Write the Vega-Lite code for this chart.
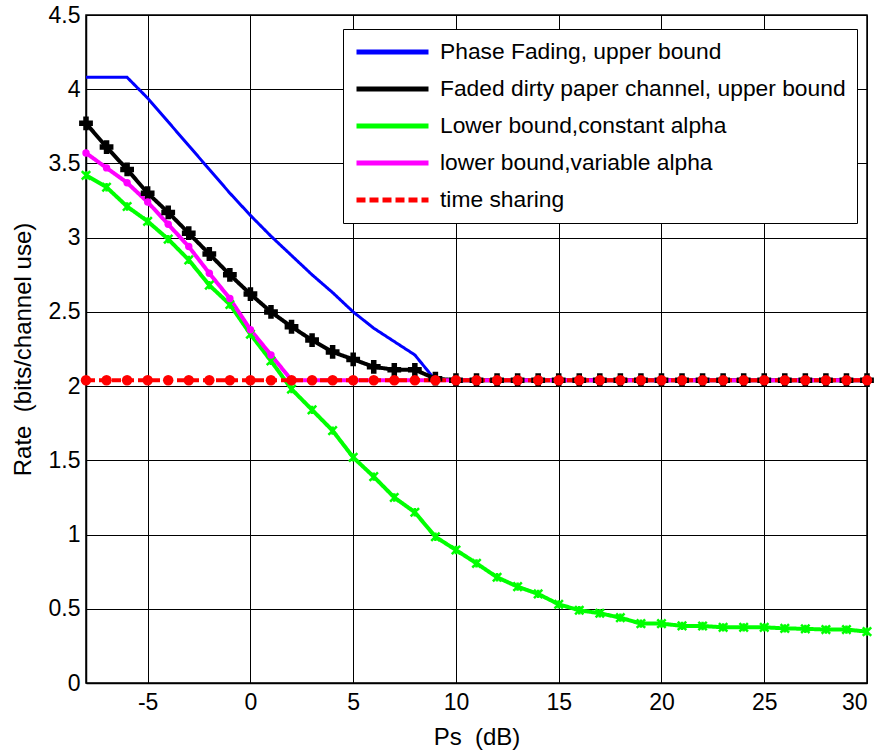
{
  "$schema": "https://vega.github.io/schema/vega-lite/v6.json",
  "autosize": "none",
  "width": 781,
  "height": 668,
  "padding": {"left": 86, "top": 15, "right": 14, "bottom": 72},
  "background": "white",
  "config": {
    "view": {"stroke": "black", "strokeWidth": 1.5},
    "font": "Liberation Sans",
    "axis": {
      "grid": true,
      "gridColor": "black",
      "gridOpacity": 1,
      "gridWidth": 1,
      "domainColor": "black",
      "domainWidth": 1.5,
      "ticks": false,
      "labelFont": "Liberation Sans",
      "labelFontSize": 23,
      "labelColor": "#000000",
      "titleFont": "Liberation Sans",
      "titleFontSize": 24,
      "titleFontWeight": "normal",
      "titleColor": "#000000"
    }
  },
  "data": {
    "values": [
      {"s": "Phase Fading, upper bound", "x": -8, "y": 4.08},
      {"s": "Phase Fading, upper bound", "x": -7, "y": 4.08},
      {"s": "Phase Fading, upper bound", "x": -6, "y": 4.08},
      {"s": "Phase Fading, upper bound", "x": -5, "y": 3.94},
      {"s": "Phase Fading, upper bound", "x": -4, "y": 3.78},
      {"s": "Phase Fading, upper bound", "x": -3, "y": 3.62},
      {"s": "Phase Fading, upper bound", "x": -2, "y": 3.46},
      {"s": "Phase Fading, upper bound", "x": -1, "y": 3.30},
      {"s": "Phase Fading, upper bound", "x": 0, "y": 3.15},
      {"s": "Phase Fading, upper bound", "x": 1, "y": 3.01},
      {"s": "Phase Fading, upper bound", "x": 2, "y": 2.88},
      {"s": "Phase Fading, upper bound", "x": 3, "y": 2.75},
      {"s": "Phase Fading, upper bound", "x": 4, "y": 2.63},
      {"s": "Phase Fading, upper bound", "x": 5, "y": 2.50},
      {"s": "Phase Fading, upper bound", "x": 6, "y": 2.39},
      {"s": "Phase Fading, upper bound", "x": 7, "y": 2.30},
      {"s": "Phase Fading, upper bound", "x": 8, "y": 2.21},
      {"s": "Phase Fading, upper bound", "x": 9, "y": 2.04},
      {"s": "Phase Fading, upper bound", "x": 30, "y": 2.04},

      {"s": "Faded dirty paper channel, upper bound", "x": -8, "y": 3.77},
      {"s": "Faded dirty paper channel, upper bound", "x": -7, "y": 3.61},
      {"s": "Faded dirty paper channel, upper bound", "x": -6, "y": 3.46},
      {"s": "Faded dirty paper channel, upper bound", "x": -5, "y": 3.30},
      {"s": "Faded dirty paper channel, upper bound", "x": -4, "y": 3.17},
      {"s": "Faded dirty paper channel, upper bound", "x": -3, "y": 3.03},
      {"s": "Faded dirty paper channel, upper bound", "x": -2, "y": 2.89},
      {"s": "Faded dirty paper channel, upper bound", "x": -1, "y": 2.75},
      {"s": "Faded dirty paper channel, upper bound", "x": 0, "y": 2.62},
      {"s": "Faded dirty paper channel, upper bound", "x": 1, "y": 2.50},
      {"s": "Faded dirty paper channel, upper bound", "x": 2, "y": 2.40},
      {"s": "Faded dirty paper channel, upper bound", "x": 3, "y": 2.31},
      {"s": "Faded dirty paper channel, upper bound", "x": 4, "y": 2.23},
      {"s": "Faded dirty paper channel, upper bound", "x": 5, "y": 2.18},
      {"s": "Faded dirty paper channel, upper bound", "x": 6, "y": 2.13},
      {"s": "Faded dirty paper channel, upper bound", "x": 7, "y": 2.11},
      {"s": "Faded dirty paper channel, upper bound", "x": 8, "y": 2.11},
      {"s": "Faded dirty paper channel, upper bound", "x": 9, "y": 2.05},
      {"s": "Faded dirty paper channel, upper bound", "x": 10, "y": 2.04},
      {"s": "Faded dirty paper channel, upper bound", "x": 11, "y": 2.04},
      {"s": "Faded dirty paper channel, upper bound", "x": 12, "y": 2.04},
      {"s": "Faded dirty paper channel, upper bound", "x": 13, "y": 2.04},
      {"s": "Faded dirty paper channel, upper bound", "x": 14, "y": 2.04},
      {"s": "Faded dirty paper channel, upper bound", "x": 15, "y": 2.04},
      {"s": "Faded dirty paper channel, upper bound", "x": 16, "y": 2.04},
      {"s": "Faded dirty paper channel, upper bound", "x": 17, "y": 2.04},
      {"s": "Faded dirty paper channel, upper bound", "x": 18, "y": 2.04},
      {"s": "Faded dirty paper channel, upper bound", "x": 19, "y": 2.04},
      {"s": "Faded dirty paper channel, upper bound", "x": 20, "y": 2.04},
      {"s": "Faded dirty paper channel, upper bound", "x": 21, "y": 2.04},
      {"s": "Faded dirty paper channel, upper bound", "x": 22, "y": 2.04},
      {"s": "Faded dirty paper channel, upper bound", "x": 23, "y": 2.04},
      {"s": "Faded dirty paper channel, upper bound", "x": 24, "y": 2.04},
      {"s": "Faded dirty paper channel, upper bound", "x": 25, "y": 2.04},
      {"s": "Faded dirty paper channel, upper bound", "x": 26, "y": 2.04},
      {"s": "Faded dirty paper channel, upper bound", "x": 27, "y": 2.04},
      {"s": "Faded dirty paper channel, upper bound", "x": 28, "y": 2.04},
      {"s": "Faded dirty paper channel, upper bound", "x": 29, "y": 2.04},
      {"s": "Faded dirty paper channel, upper bound", "x": 30, "y": 2.04},

      {"s": "Lower bound,constant alpha", "x": -8, "y": 3.42},
      {"s": "Lower bound,constant alpha", "x": -7, "y": 3.34},
      {"s": "Lower bound,constant alpha", "x": -6, "y": 3.21},
      {"s": "Lower bound,constant alpha", "x": -5, "y": 3.11},
      {"s": "Lower bound,constant alpha", "x": -4, "y": 2.99},
      {"s": "Lower bound,constant alpha", "x": -3, "y": 2.85},
      {"s": "Lower bound,constant alpha", "x": -2, "y": 2.68},
      {"s": "Lower bound,constant alpha", "x": -1, "y": 2.55},
      {"s": "Lower bound,constant alpha", "x": 0, "y": 2.35},
      {"s": "Lower bound,constant alpha", "x": 1, "y": 2.17},
      {"s": "Lower bound,constant alpha", "x": 2, "y": 1.98},
      {"s": "Lower bound,constant alpha", "x": 3, "y": 1.84},
      {"s": "Lower bound,constant alpha", "x": 4, "y": 1.70},
      {"s": "Lower bound,constant alpha", "x": 5, "y": 1.52},
      {"s": "Lower bound,constant alpha", "x": 6, "y": 1.39},
      {"s": "Lower bound,constant alpha", "x": 7, "y": 1.25},
      {"s": "Lower bound,constant alpha", "x": 8, "y": 1.15},
      {"s": "Lower bound,constant alpha", "x": 9, "y": 0.985},
      {"s": "Lower bound,constant alpha", "x": 10, "y": 0.896},
      {"s": "Lower bound,constant alpha", "x": 11, "y": 0.806},
      {"s": "Lower bound,constant alpha", "x": 12, "y": 0.712},
      {"s": "Lower bound,constant alpha", "x": 13, "y": 0.649},
      {"s": "Lower bound,constant alpha", "x": 14, "y": 0.60},
      {"s": "Lower bound,constant alpha", "x": 15, "y": 0.53},
      {"s": "Lower bound,constant alpha", "x": 16, "y": 0.49},
      {"s": "Lower bound,constant alpha", "x": 17, "y": 0.47},
      {"s": "Lower bound,constant alpha", "x": 18, "y": 0.44},
      {"s": "Lower bound,constant alpha", "x": 19, "y": 0.40},
      {"s": "Lower bound,constant alpha", "x": 20, "y": 0.40},
      {"s": "Lower bound,constant alpha", "x": 21, "y": 0.385},
      {"s": "Lower bound,constant alpha", "x": 22, "y": 0.384},
      {"s": "Lower bound,constant alpha", "x": 23, "y": 0.375},
      {"s": "Lower bound,constant alpha", "x": 24, "y": 0.375},
      {"s": "Lower bound,constant alpha", "x": 25, "y": 0.375},
      {"s": "Lower bound,constant alpha", "x": 26, "y": 0.368},
      {"s": "Lower bound,constant alpha", "x": 27, "y": 0.365},
      {"s": "Lower bound,constant alpha", "x": 28, "y": 0.36},
      {"s": "Lower bound,constant alpha", "x": 29, "y": 0.36},
      {"s": "Lower bound,constant alpha", "x": 30, "y": 0.346},

      {"s": "lower bound,variable alpha", "x": -8, "y": 3.57},
      {"s": "lower bound,variable alpha", "x": -7, "y": 3.47},
      {"s": "lower bound,variable alpha", "x": -6, "y": 3.37},
      {"s": "lower bound,variable alpha", "x": -5, "y": 3.24},
      {"s": "lower bound,variable alpha", "x": -4, "y": 3.09},
      {"s": "lower bound,variable alpha", "x": -3, "y": 2.94},
      {"s": "lower bound,variable alpha", "x": -2, "y": 2.76},
      {"s": "lower bound,variable alpha", "x": -1, "y": 2.59},
      {"s": "lower bound,variable alpha", "x": 0, "y": 2.38},
      {"s": "lower bound,variable alpha", "x": 1, "y": 2.21},
      {"s": "lower bound,variable alpha", "x": 2, "y": 2.04},
      {"s": "lower bound,variable alpha", "x": 3, "y": 2.04},
      {"s": "lower bound,variable alpha", "x": 4, "y": 2.04},
      {"s": "lower bound,variable alpha", "x": 5, "y": 2.04},
      {"s": "lower bound,variable alpha", "x": 6, "y": 2.04},
      {"s": "lower bound,variable alpha", "x": 7, "y": 2.04},
      {"s": "lower bound,variable alpha", "x": 8, "y": 2.04},
      {"s": "lower bound,variable alpha", "x": 9, "y": 2.04},
      {"s": "lower bound,variable alpha", "x": 10, "y": 2.04},
      {"s": "lower bound,variable alpha", "x": 11, "y": 2.04},
      {"s": "lower bound,variable alpha", "x": 12, "y": 2.04},
      {"s": "lower bound,variable alpha", "x": 13, "y": 2.04},
      {"s": "lower bound,variable alpha", "x": 14, "y": 2.04},
      {"s": "lower bound,variable alpha", "x": 15, "y": 2.04},
      {"s": "lower bound,variable alpha", "x": 16, "y": 2.04},
      {"s": "lower bound,variable alpha", "x": 17, "y": 2.04},
      {"s": "lower bound,variable alpha", "x": 18, "y": 2.04},
      {"s": "lower bound,variable alpha", "x": 19, "y": 2.04},
      {"s": "lower bound,variable alpha", "x": 20, "y": 2.04},
      {"s": "lower bound,variable alpha", "x": 21, "y": 2.04},
      {"s": "lower bound,variable alpha", "x": 22, "y": 2.04},
      {"s": "lower bound,variable alpha", "x": 23, "y": 2.04},
      {"s": "lower bound,variable alpha", "x": 24, "y": 2.04},
      {"s": "lower bound,variable alpha", "x": 25, "y": 2.04},
      {"s": "lower bound,variable alpha", "x": 26, "y": 2.04},
      {"s": "lower bound,variable alpha", "x": 27, "y": 2.04},
      {"s": "lower bound,variable alpha", "x": 28, "y": 2.04},
      {"s": "lower bound,variable alpha", "x": 29, "y": 2.04},
      {"s": "lower bound,variable alpha", "x": 30, "y": 2.04},

      {"s": "time sharing", "x": -8, "y": 2.04},
      {"s": "time sharing", "x": -7, "y": 2.04},
      {"s": "time sharing", "x": -6, "y": 2.04},
      {"s": "time sharing", "x": -5, "y": 2.04},
      {"s": "time sharing", "x": -4, "y": 2.04},
      {"s": "time sharing", "x": -3, "y": 2.04},
      {"s": "time sharing", "x": -2, "y": 2.04},
      {"s": "time sharing", "x": -1, "y": 2.04},
      {"s": "time sharing", "x": 0, "y": 2.04},
      {"s": "time sharing", "x": 1, "y": 2.04},
      {"s": "time sharing", "x": 2, "y": 2.04},
      {"s": "time sharing", "x": 3, "y": 2.04},
      {"s": "time sharing", "x": 4, "y": 2.04},
      {"s": "time sharing", "x": 5, "y": 2.04},
      {"s": "time sharing", "x": 6, "y": 2.04},
      {"s": "time sharing", "x": 7, "y": 2.04},
      {"s": "time sharing", "x": 8, "y": 2.04},
      {"s": "time sharing", "x": 9, "y": 2.04},
      {"s": "time sharing", "x": 10, "y": 2.04},
      {"s": "time sharing", "x": 11, "y": 2.04},
      {"s": "time sharing", "x": 12, "y": 2.04},
      {"s": "time sharing", "x": 13, "y": 2.04},
      {"s": "time sharing", "x": 14, "y": 2.04},
      {"s": "time sharing", "x": 15, "y": 2.04},
      {"s": "time sharing", "x": 16, "y": 2.04},
      {"s": "time sharing", "x": 17, "y": 2.04},
      {"s": "time sharing", "x": 18, "y": 2.04},
      {"s": "time sharing", "x": 19, "y": 2.04},
      {"s": "time sharing", "x": 20, "y": 2.04},
      {"s": "time sharing", "x": 21, "y": 2.04},
      {"s": "time sharing", "x": 22, "y": 2.04},
      {"s": "time sharing", "x": 23, "y": 2.04},
      {"s": "time sharing", "x": 24, "y": 2.04},
      {"s": "time sharing", "x": 25, "y": 2.04},
      {"s": "time sharing", "x": 26, "y": 2.04},
      {"s": "time sharing", "x": 27, "y": 2.04},
      {"s": "time sharing", "x": 28, "y": 2.04},
      {"s": "time sharing", "x": 29, "y": 2.04},
      {"s": "time sharing", "x": 30, "y": 2.04}
    ]
  },
  "encoding": {
    "x": {
      "field": "x", "type": "quantitative",
      "scale": {"domain": [-8, 30], "nice": false, "zero": false},
      "axis": {
        "values": [-5, 0, 5, 10, 15, 20, 25, 30],
        "labelExpr": "'' + datum.value",
        "labelPadding": 8,
        "title": "Ps \u00a0(dB)",
        "titlePadding": 11
      }
    },
    "y": {
      "field": "y", "type": "quantitative",
      "scale": {"domain": [0, 4.5], "nice": false},
      "axis": {
        "values": [0, 0.5, 1, 1.5, 2, 2.5, 3, 3.5, 4, 4.5],
        "labelExpr": "'' + datum.value",
        "labelPadding": 6,
        "title": "Rate \u00a0(bits/channel use)",
        "titlePadding": 13
      }
    },
    "color": {
      "field": "s", "type": "nominal",
      "scale": {
        "domain": ["Phase Fading, upper bound", "Faded dirty paper channel, upper bound", "Lower bound,constant alpha", "lower bound,variable alpha", "time sharing"],
        "range": ["#0000ff", "#000000", "#00ff00", "#ff00ff", "#ff0000"]
      },
      "legend": {
        "title": null,
        "orient": "none",
        "legendX": 257,
        "legendY": 14,
        "symbolType": "stroke",
        "symbolSize": 5184,
        "symbolStrokeWidth": 5,
        "clipHeight": 24,
        "labelFontSize": 22.8,
        "labelFont": "Liberation Sans",
        "labelColor": "#000000",
        "labelOffset": 9,
        "labelLimit": 600,
        "strokeColor": "black",
        "fillColor": "white",
        "padding": 11,
        "rowPadding": 13
      }
    },
    "strokeDash": {
      "field": "s", "type": "nominal",
      "scale": {
        "domain": ["Phase Fading, upper bound", "Faded dirty paper channel, upper bound", "Lower bound,constant alpha", "lower bound,variable alpha", "time sharing"],
        "range": [[1, 0], [1, 0], [1, 0], [1, 0], [9, 4]]
      },
      "legend": {"title": null}
    }
  },
  "layer": [
    {
      "transform": [{"filter": "datum.s === 'Phase Fading, upper bound'"}],
      "mark": {"type": "line", "clip": true, "strokeWidth": 3},
      "encoding": {"order": {"field": "x", "type": "quantitative"}}
    },
    {
      "transform": [{"filter": "datum.s !== 'Phase Fading, upper bound'"}],
      "mark": {"type": "line", "clip": true, "strokeWidth": 4},
      "encoding": {"order": {"field": "x", "type": "quantitative"}}
    },
    {
      "transform": [{"filter": "datum.s === 'Faded dirty paper channel, upper bound'"}],
      "mark": {"type": "point", "shape": "cross", "filled": true, "size": 190, "opacity": 1},
      "encoding": {"color": {"value": "#000000"}, "strokeDash": {"value": [1, 0]}}
    },
    {
      "transform": [{"filter": "datum.s === 'Lower bound,constant alpha'"}],
      "mark": {"type": "point", "shape": "M-1,-1L1,1M1,-1L-1,1M0,-1L0,1", "filled": false, "strokeWidth": 2.5, "size": 70, "opacity": 1},
      "encoding": {"color": {"value": "#00ff00"}, "strokeDash": {"value": [1, 0]}}
    },
    {
      "transform": [{"filter": "datum.s === 'lower bound,variable alpha'"}],
      "mark": {"type": "point", "shape": "circle", "filled": true, "size": 55, "opacity": 1},
      "encoding": {"color": {"value": "#ff00ff"}, "strokeDash": {"value": [1, 0]}}
    },
    {
      "transform": [{"filter": "datum.s === 'time sharing'"}],
      "mark": {"type": "point", "shape": "circle", "filled": true, "size": 110, "opacity": 1},
      "encoding": {"color": {"value": "#ff0000"}, "strokeDash": {"value": [1, 0]}}
    }
  ]
}
